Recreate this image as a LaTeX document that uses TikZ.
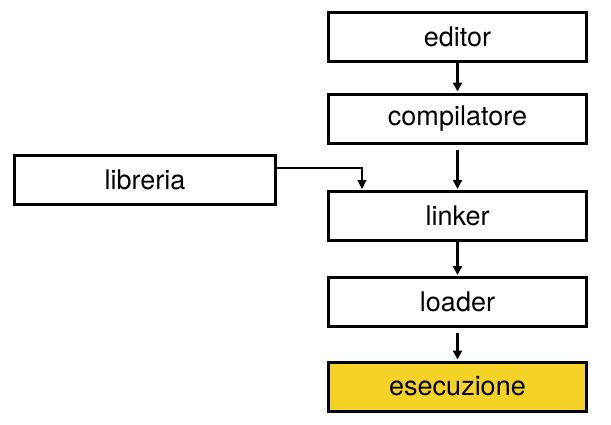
\documentclass[tikz,border=0pt]{standalone}
\usepackage{fontspec}
\setmainfont{TeX Gyre Heros}
\usetikzlibrary{arrows.meta}
\definecolor{giallo}{RGB}{245,210,40}
\begin{document}
\begin{tikzpicture}[x=1pt,y=1pt,>={Triangle[width=9pt,length=9pt]}, font=\fontsize{27}{31}\selectfont, line join=miter,
box/.style={draw, line width=3pt, minimum width=258pt, minimum height=49pt, inner sep=0pt},
freccia/.style={->, line width=2.5pt, shorten >=1pt}]
\useasboundingbox (0,0) rectangle (611,-424);
\def\xc{457.5}
\node[box] (editor) at (\xc,-36.5) {editor};
\node[box] (compilatore) at (\xc,-118.5) {compilatore};
\node[box] (linker) at (\xc,-216) {linker};
\node[box] (loader) at (\xc,-302) {loader};
\node[box, fill=giallo] (esecuzione) at (\xc,-386.5) {esecuzione};
\node[box, minimum width=261pt] (libreria) at (145,-179.5) {libreria};
\draw[freccia] (editor) -- (compilatore);
\draw[freccia] ([yshift=-5pt]compilatore.south) -- (linker);
\draw[freccia] (linker) -- (loader);
\draw[freccia] ([yshift=-5pt]loader.south) -- (esecuzione);
\draw[->, line width=1.2pt, shorten >=1pt] ([yshift=11.5pt]libreria.east) -| ([xshift=-95.5pt]linker.north);
\end{tikzpicture}
\end{document}
